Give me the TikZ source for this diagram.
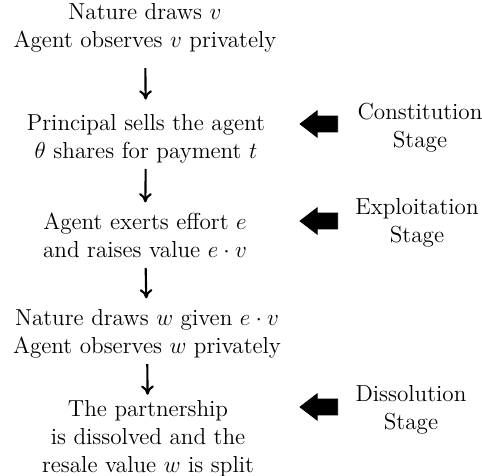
\documentclass[tikz,border=0pt]{standalone}
\usepackage{amsmath}
\usepackage{amssymb}
\usetikzlibrary{shapes.arrows,arrows.meta}

\begin{document}
\begin{tikzpicture}[x=0.518pt,y=-0.518pt,
    every node/.style={font=\fontsize{12}{14.5}\selectfont},
    event/.style={align=center,inner sep=0pt},
    stagelabel/.style={align=center,inner sep=0pt},
    flow/.style={-{To[length=4.8pt,width=6.6pt]},line width=1.1pt},
    fatarrow/.style={single arrow,fill,draw,inner sep=3.9pt,minimum height=19.5pt,
        single arrow head extend=2.7pt,single arrow tip angle=75,shape border rotate=180}]
            \useasboundingbox (0,0) rectangle (482,476);

            % time line
            \node (draw) at (145,28) [event] {Nature draws $v$\\ Agent observes $v$ privately};
            \node (sell) at (146,139) [event] {Principal sells the agent\\ $\theta$ shares for payment $t$};
            \node (effort) at (145,235) [event] {Agent exerts effort $e$\\ and raises value $e\cdot v$};
            \node (resale) at (147,334) [event] {Nature draws $w$ given $e\cdot v$\\ Agent observes $w$ privately};
            \node (split) at (148,439) [event] {The partnership\\ is dissolved and the\\ resale value $w$ is split};

            \draw[flow,shorten <=7.9pt,shorten >=7.6pt] (draw) -- (sell);
            \draw[flow,shorten <=2.7pt,shorten >=5.1pt] (sell) -- (effort);
            \draw[flow,shorten <=5.3pt,shorten >=5.6pt] (effort) -- (resale);
            \draw[flow,shorten <=2.7pt,shorten >=2.9pt] (resale) -- (split);

            % stages
            \node (cs) at (420,128) [stagelabel] {Constitution\\ Stage};
            \node (es) at (417,223) [stagelabel] {Exploitation\\ Stage};
            \node (ds) at (411,410) [stagelabel] {Dissolution\\ Stage};

            \node (csarrow) at (324,124) [fatarrow] {};
            \node (esarrow) at (324,221) [fatarrow] {};
            \node (dsarrow) at (324,407) [fatarrow] {};
        \end{tikzpicture}
\end{document}
